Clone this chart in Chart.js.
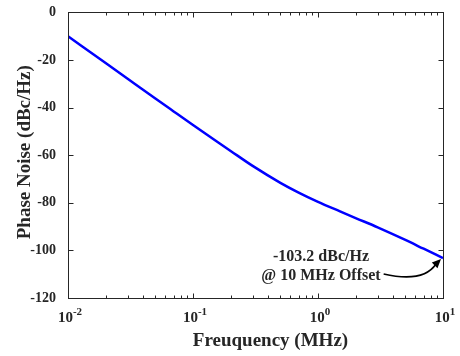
<!DOCTYPE html>
<html>
<head>
<meta charset="utf-8">
<script src="https://cdn.jsdelivr.net/npm/chart.js@4/dist/chart.umd.min.js"></script>
<style>
  html, body { margin: 0; padding: 0; background: #fff; }
  #wrap { width: 460px; height: 356px; }
</style>
</head>
<body>
<div id="wrap"><canvas id="c" width="460" height="356"></canvas></div>
<script>
// ---- data ----
const freqMHz = [0.01, 0.02, 0.03, 0.05, 0.07, 0.1, 0.15, 0.2, 0.3, 0.5, 0.7, 1, 1.5, 2, 3, 5, 7, 10];
const phaseNoise = [-10, -21.3, -27.9, -36.2, -41.6, -47.3, -53.7, -58.2, -64.5, -71.6, -75.7, -79.6, -83.6, -86.4, -90.3, -95.6, -99.3, -103.2];
const yTicks = [0, -20, -40, -60, -80, -100, -120];
const xDecades = [-2, -1, 0, 1];
const xTitle = 'Freuquency (MHz)';
const yTitle = 'Phase Noise (dBc/Hz)';
const noteLines = ['-103.2 dBc/Hz', '@ 10 MHz Offset'];
const notePoint = { x: 10, y: -103.2 };

const FONT = "'Liberation Serif', 'Times New Roman', serif";
const INK = '#262626';

const deco = {
  id: 'deco',
  afterDraw(chart) {
    const ctx = chart.ctx;
    const a = chart.chartArea;
    const xs = chart.scales.x, ys = chart.scales.y;
    ctx.save();
    ctx.strokeStyle = INK;
    ctx.lineWidth = 1;
    const L = Math.round(a.left) + 0.5, R = Math.round(a.right) + 0.5;
    const T = Math.round(a.top) + 0.5, B = Math.round(a.bottom) + 0.5;
    ctx.strokeRect(L, T, R - L, B - T);
    ctx.beginPath();
    yTicks.forEach(v => {
      const py = Math.round(ys.getPixelForValue(v)) + 0.5;
      ctx.moveTo(L, py); ctx.lineTo(L + 5, py);
      ctx.moveTo(R, py); ctx.lineTo(R - 5, py);
    });
    xDecades.forEach(d => {
      for (let k = 1; k <= 9; k++) {
        const v = k * Math.pow(10, d);
        if (v > xs.max * 1.0001) break;
        const px = Math.round(xs.getPixelForValue(v)) + 0.5;
        const len = k === 1 ? 5 : 3;
        ctx.moveTo(px, B); ctx.lineTo(px, B - len);
        ctx.moveTo(px, T); ctx.lineTo(px, T + len);
      }
    });
    ctx.stroke();

    // x tick labels 10^d
    ctx.fillStyle = INK;
    ctx.textBaseline = 'alphabetic';
    xDecades.forEach(d => {
      const px = xs.getPixelForValue(Math.pow(10, d));
      const base = '10', sup = String(d);
      ctx.font = 'bold 15px ' + FONT;
      const wb = ctx.measureText(base).width;
      ctx.font = 'bold 11px ' + FONT;
      const ws = ctx.measureText(sup).width;
      const x0 = px - (wb + ws) / 2 + 2;
      ctx.font = 'bold 15px ' + FONT;
      ctx.textAlign = 'left';
      ctx.fillText(base, x0, a.bottom + 24);
      ctx.font = 'bold 11px ' + FONT;
      ctx.fillText(sup, x0 + wb, a.bottom + 17);
    });

    // axis titles
    ctx.font = 'bold 19px ' + FONT;
    ctx.textAlign = 'center';
    ctx.fillText(xTitle, (a.left + a.right) / 2 + 15, a.bottom + 48);
    ctx.save();
    ctx.translate(30, (a.top + a.bottom) / 2 - 3);
    ctx.rotate(-Math.PI / 2);
    ctx.fillText(yTitle, 0, 0);
    ctx.restore();

    // annotation
    const tx = xs.getPixelForValue(notePoint.x), ty = ys.getPixelForValue(notePoint.y);
    ctx.font = 'bold 16px ' + FONT;
    ctx.textAlign = 'center';
    const cx = tx - 122;
    ctx.fillText(noteLines[0], cx, ty + 3);
    ctx.fillText(noteLines[1], cx, ty + 22);
    const w1 = ctx.measureText(noteLines[1]).width;
    const sx = cx + w1 / 2 + 3, sy = ty + 16;
    const ex = tx - 7, ey = ty + 6;
    ctx.strokeStyle = '#000';
    ctx.lineWidth = 1.6;
    ctx.beginPath();
    ctx.moveTo(sx, sy);
    ctx.bezierCurveTo(sx + 22, sy + 5, ex - 10, sy + 5, ex, ey);
    ctx.stroke();
    const hx = tx - 2, hy = ty + 1;
    const ang = Math.atan2(hy - ey, hx - ex);
    ctx.fillStyle = '#000';
    ctx.beginPath();
    ctx.moveTo(hx, hy);
    ctx.lineTo(hx - 9 * Math.cos(ang) + 4 * Math.sin(ang), hy - 9 * Math.sin(ang) - 4 * Math.cos(ang));
    ctx.lineTo(hx - 9 * Math.cos(ang) - 4 * Math.sin(ang), hy - 9 * Math.sin(ang) + 4 * Math.cos(ang));
    ctx.closePath();
    ctx.fill();
    ctx.restore();
  }
};

new Chart(document.getElementById('c'), {
  type: 'line',
  data: {
    datasets: [{
      data: freqMHz.map((f, i) => ({ x: f, y: phaseNoise[i] })),
      borderColor: '#0000ff',
      borderWidth: 2.5,
      pointRadius: 0,
      fill: false,
      cubicInterpolationMode: 'monotone'
    }]
  },
  options: {
    responsive: false,
    animation: false,
    devicePixelRatio: 1,
    layout: { padding: { top: 12, right: 17, left: 0, bottom: 0 } },
    plugins: { legend: { display: false }, tooltip: { enabled: false } },
    scales: {
      x: {
        type: 'logarithmic',
        min: 0.01, max: 10,
        grid: { display: false },
        border: { display: false },
        ticks: { display: false },
        afterFit(s) { s.height = 58; }
      },
      y: {
        type: 'linear',
        min: -120, max: 0,
        grid: { display: false },
        border: { display: false },
        ticks: {
          stepSize: 20,
          padding: 4,
          color: INK,
          font: { family: FONT, weight: 'bold', size: 14 }
        },
        afterFit(s) { s.width = 68; }
      }
    }
  },
  plugins: [deco]
});
</script>
</body>
</html>
